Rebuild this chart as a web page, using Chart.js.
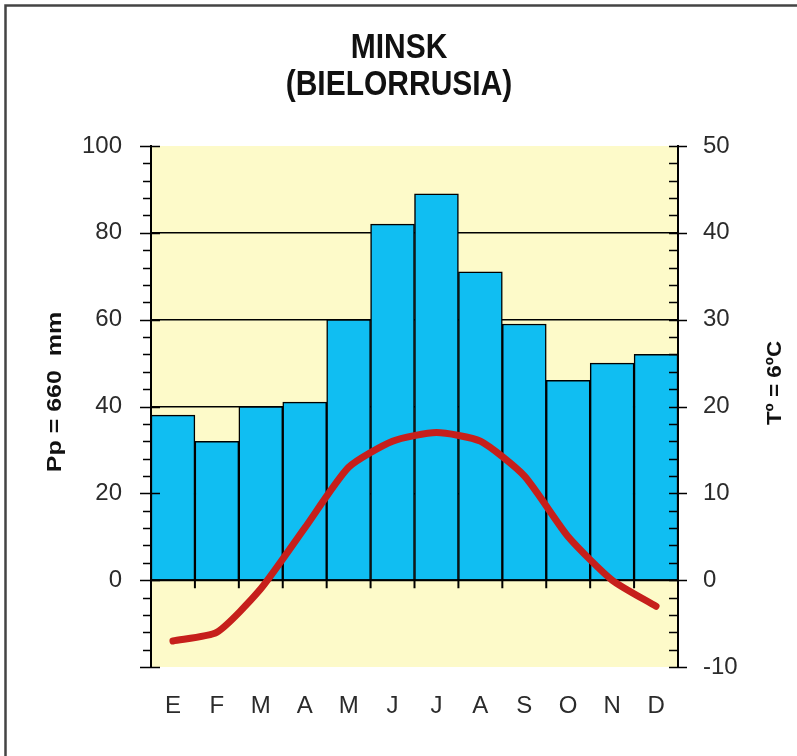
<!DOCTYPE html>
<html>
<head>
<meta charset="utf-8">
<script src="https://cdn.jsdelivr.net/npm/chart.js@4.4.1/dist/chart.umd.min.js"></script>
<style>
  body { margin: 0; background: #fff; }
  canvas { display: block; }
</style>
</head>
<body>
<canvas id="climograma" width="797" height="756"></canvas>
<script>
// Datos del climograma de Minsk
const months = ['E', 'F', 'M', 'A', 'M', 'J', 'J', 'A', 'S', 'O', 'N', 'D'];
const precipitation = [38, 32, 40, 41, 60, 82, 89, 71, 59, 46, 50, 52]; // mm
const temperature = [-7, -6, -1, 6, 13, 16, 17, 16, 12, 5, 0, -3]; // ºC
const precipTicks = [-20, 0, 20, 40, 60, 80, 100];
const tempTicks = [-10, 0, 10, 20, 30, 40, 50];

const titleLines = ['MINSK', '(BIELORRUSIA)'];
const leftTitle = 'Pp = 660  mm';
const rightTitle = 'Tº = 6ºC';

const FONT = '"Liberation Sans", Arial, sans-serif';

// fondo amarillo, marcas de los ejes, títulos
const climoPlugin = {
  id: 'climo',
  beforeDraw(chart) {
    const { ctx, chartArea: a } = chart;
    ctx.save();
    ctx.fillStyle = '#fdfac9';
    ctx.fillRect(a.left, a.top, a.right - a.left, a.bottom - a.top);
    ctx.restore();
  },
  afterDatasetDraw(chart, args) {
    if (args.meta.type !== 'bar') return;
    const { ctx, chartArea: a, scales } = chart;
    const y0 = scales.yP.getPixelForValue(0);
    ctx.save();
    ctx.strokeStyle = '#000';
    ctx.lineWidth = 2;
    ctx.beginPath();
    ctx.moveTo(a.left, y0);
    ctx.lineTo(a.right, y0);
    // marcas entre meses
    const step = (a.right - a.left) / months.length;
    for (let i = 1; i < months.length; i++) {
      const x = a.left + i * step;
      ctx.moveTo(x, y0);
      ctx.lineTo(x, y0 + 8);
    }
    ctx.stroke();
    ctx.restore();
  },
  afterDraw(chart) {
    const { ctx, chartArea: a, scales } = chart;
    ctx.save();
    ctx.strokeStyle = '#000';
    ctx.lineWidth = 1.5;
    ctx.beginPath();
    // eje izquierdo: marca cada 4 mm
    for (let v = -20; v <= 100; v += 4) {
      const y = Math.round(scales.yP.getPixelForValue(v)) + 0.5;
      if (v % 20 === 0) { ctx.moveTo(a.left - 11, y); ctx.lineTo(a.left + 9, y); }
      else { ctx.moveTo(a.left - 8, y); ctx.lineTo(a.left, y); }
    }
    // eje derecho: marca cada 2 ºC
    for (let v = -10; v <= 50; v += 2) {
      const y = Math.round(scales.yT.getPixelForValue(v)) + 0.5;
      if (v % 10 === 0) { ctx.moveTo(a.right - 9, y); ctx.lineTo(a.right + 9, y); }
      else { ctx.moveTo(a.right - 9, y); ctx.lineTo(a.right, y); }
    }
    ctx.stroke();

    // marco
    ctx.strokeStyle = '#444';
    ctx.lineWidth = 2.5;
    ctx.beginPath();
    ctx.moveTo(5.5, 756);
    ctx.lineTo(5.5, 5.5);
    ctx.lineTo(797, 5.5);
    ctx.stroke();

    // títulos
    ctx.fillStyle = '#111';
    ctx.textAlign = 'center';
    ctx.textBaseline = 'middle';
    ctx.font = 'bold 30px ' + FONT;
    const cx = 399;
    [[titleLines[0], 48], [titleLines[1], 85]].forEach(([t, y]) => {
      ctx.save();
      ctx.translate(cx, y);
      ctx.scale(1, 1.15);
      ctx.fillText(t, 0, 0);
      ctx.restore();
    });

    ctx.font = 'bold 20px ' + FONT;
    ctx.save();
    ctx.translate(55, 392);
    ctx.rotate(-Math.PI / 2);
    ctx.scale(1.25, 1);
    ctx.fillText(leftTitle, 0, 0);
    ctx.restore();

    ctx.save();
    ctx.translate(775, 383);
    ctx.rotate(-Math.PI / 2);
    ctx.scale(1.12, 1);
    ctx.fillText(rightTitle, 0, 0);
    ctx.restore();
    ctx.restore();
  }
};

const tickFont = { family: FONT, size: 24 };

new Chart(document.getElementById('climograma'), {
  type: 'bar',
  data: {
    labels: months,
    datasets: [
      {
        type: 'line',
        label: 'Temperatura',
        data: temperature,
        yAxisID: 'yT',
        borderColor: '#c61f1b',
        borderWidth: 7,
        borderCapStyle: 'round',
        borderJoinStyle: 'round',
        pointRadius: 0,
        tension: 0.2,
        order: 1
      },
      {
        type: 'bar',
        label: 'Precipitación',
        data: precipitation,
        yAxisID: 'yP',
        backgroundColor: '#10bef2',
        borderColor: '#000',
        borderWidth: 1.5,
        barPercentage: 1,
        categoryPercentage: 1,
        order: 2
      }
    ]
  },
  options: {
    responsive: false,
    animation: false,
    layout: { padding: { top: 146, left: 0, right: 0, bottom: 0 } },
    plugins: {
      legend: { display: false },
      title: { display: false },
      tooltip: { enabled: false }
    },
    scales: {
      x: {
        grid: { display: false },
        border: { display: false },
        ticks: { font: tickFont, color: '#2b2b2b', padding: 17, maxRotation: 0, autoSkip: false },
        afterFit: s => { s.height = 89; }
      },
      yP: {
        position: 'left',
        min: -20,
        max: 100,
        afterBuildTicks: s => { s.ticks = precipTicks.map(v => ({ value: v })); },
        afterFit: s => { s.width = 151; },
        grid: {
          drawTicks: false,
          lineWidth: 1.5,
          color: c => (c.tick && c.tick.value >= 0 && c.tick.value <= 80) ? '#000' : 'rgba(0,0,0,0)'
        },
        border: { display: true, color: '#000', width: 2 },
        ticks: {
          font: tickFont,
          color: '#2b2b2b',
          padding: 29,
          callback: v => (v < 0 ? '' : v)
        }
      },
      yT: {
        position: 'right',
        min: -10,
        max: 50,
        afterBuildTicks: s => { s.ticks = tempTicks.map(v => ({ value: v })); },
        afterFit: s => { s.width = 119; },
        grid: { drawOnChartArea: false, drawTicks: false },
        border: { display: true, color: '#000', width: 2 },
        ticks: { font: tickFont, color: '#2b2b2b', padding: 25 }
      }
    }
  },
  plugins: [climoPlugin]
});
</script>
</body>
</html>
